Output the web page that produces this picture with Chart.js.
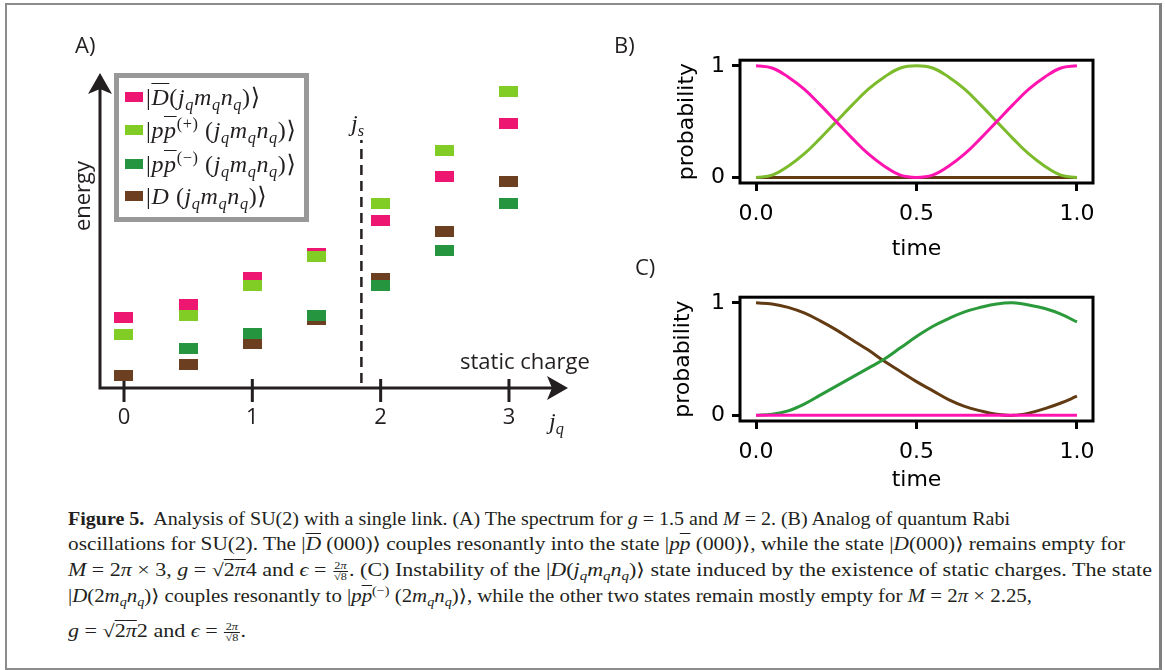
<!DOCTYPE html>
<html>
<head>
<meta charset="utf-8">
<script src="https://cdn.jsdelivr.net/npm/chart.js@4.4.1/dist/chart.umd.min.js"></script>
<style>
  html, body { margin: 0; padding: 0; background: #fff; }
  #fig { position: relative; width: 1165px; height: 670px; overflow: hidden; font-family: "Open Sans", sans-serif; color: #231f20; }
  #frame { position: absolute; left: 5px; top: 3px; width: 1157px; height: 667px; box-sizing: border-box;
           border-left: 2px solid #8c8c8c; border-top: 2px solid #8c8c8c; border-right: 3px solid #7f7f7f; border-bottom: 2px solid #8c8c8c; }
  canvas { position: absolute; }
  .lbl { position: absolute; font-size: 22px; line-height: 28px; white-space: nowrap; }
  .m { font-family: "Liberation Serif", "DejaVu Serif", serif; }
  .m i, .m sub { font-style: italic; }
  .m sup { font-style: normal; }
  sub { font-size: 68%; vertical-align: -0.3em; line-height: 0; }
  sup { font-size: 68%; vertical-align: 0.55em; line-height: 0; }
  .ov { text-decoration: overline; text-decoration-thickness: 1px; }
  #legA { position: absolute; left: 114px; top: 73px; width: 195px; height: 149px; box-sizing: border-box;
          border: 5px solid #999; background: #fff; }
  #legA .row { position: absolute; left: 6px; height: 26px; line-height: 26px; white-space: nowrap; font-size: 24px; letter-spacing: 0.6px; }
  #legA .sw { position: absolute; left: 0; top: 8px; width: 18px; height: 10px; }
  #legA .mt { position: absolute; left: 21px; top: 0; }
  .cap { position: absolute; left: 68px; white-space: nowrap; font: 18px "Liberation Serif", "DejaVu Serif", serif;
         line-height: 22px; transform-origin: 0 50%; color: #231f20; }
  .cap i { font-style: italic; }
  .frac { display: inline-block; vertical-align: middle; font-size: 10px; line-height: 10px; text-align: center; margin: 0 1px; }
  .frac span { display: block; }
  .frac .num { border-bottom: 1px solid #231f20; padding: 0 1px; }
</style>
</head>
<body>
<div id="fig">
  <div id="frame"></div>

  <canvas id="chartA" width="560" height="420" style="left:60px;top:40px"></canvas>
  <canvas id="chartB" width="490" height="226" style="left:620px;top:40px"></canvas>
  <canvas id="chartC" width="490" height="220" style="left:620px;top:277px"></canvas>

  <div class="lbl" style="left:75px;top:30px">A)</div>
  <div class="lbl" style="left:614px;top:30px">B)</div>
  <div class="lbl" style="left:635px;top:252px">C)</div>
  <div class="lbl" style="left:43px;top:182px;width:75px;text-align:center;transform:rotate(-90deg)">energy</div>
  <div class="lbl" style="left:460px;top:346px">static charge</div>
  <div class="lbl m" style="left:549px;top:407px;font-size:24px"><i>j</i><sub>q</sub></div>
  <div class="lbl m" style="left:351px;top:109px;font-size:24px"><i>j</i><sub>s</sub></div>

  <div id="legA" class="m">
    <div class="row" style="top:6px"><span class="sw" style="background:#ed1670"></span><span class="mt">|<i class="ov">D</i>(<i>j</i><sub>q</sub><i>m</i><sub>q</sub><i>n</i><sub>q</sub>)⟩</span></div>
    <div class="row" style="top:39px"><span class="sw" style="background:#82cc26"></span><span class="mt">|<i>p</i><i class="ov">p</i><sup>(+)</sup> (<i>j</i><sub>q</sub><i>m</i><sub>q</sub><i>n</i><sub>q</sub>)⟩</span></div>
    <div class="row" style="top:73px"><span class="sw" style="background:#259540"></span><span class="mt">|<i>p</i><i class="ov">p</i><sup>(−)</sup> (<i>j</i><sub>q</sub><i>m</i><sub>q</sub><i>n</i><sub>q</sub>)⟩</span></div>
    <div class="row" style="top:105px"><span class="sw" style="background:#6b3f20"></span><span class="mt">|<i>D</i> (<i>j</i><sub>q</sub><i>m</i><sub>q</sub><i>n</i><sub>q</sub>)⟩</span></div>
  </div>

  <div class="cap" style="top:508px"><b>Figure 5.</b>&nbsp; Analysis of SU(2) with a single link. (A) The spectrum for <i>g</i> = 1.5 and <i>M</i> = 2. (B) Analog of quantum Rabi</div>
  <div class="cap" style="top:533px">oscillations for SU(2). The |<i class="ov">D</i> (000)⟩ couples resonantly into the state |<i>p</i><i class="ov">p</i> (000)⟩, while the state |<i>D</i>(000)⟩ remains empty for</div>
  <div class="cap" style="top:559px"><i>M</i> = 2<i>π</i> × 3, <i>g</i> = √<span class="ov">2<i>π</i></span>4 and <i>ϵ</i> = <span class="frac"><span class="num">2<i>π</i></span><span>√8</span></span>. (C) Instability of the |<i>D</i>(<i>j<sub>q</sub>m<sub>q</sub>n<sub>q</sub></i>)⟩ state induced by the existence of static charges. The state</div>
  <div class="cap" style="top:585px">|<i>D</i>(2<i>m<sub>q</sub>n<sub>q</sub></i>)⟩ couples resonantly to |<i>p</i><i class="ov">p</i><sup>(−)</sup> (2<i>m<sub>q</sub>n<sub>q</sub></i>)⟩, while the other two states remain mostly empty for <i>M</i> = 2<i>π</i> × 2.25,</div>
  <div class="cap" style="top:620px"><i>g</i> = √<span class="ov">2<i>π</i></span>2 and <i>ϵ</i> = <span class="frac"><span class="num">2<i>π</i></span><span>√8</span></span>.</div>
</div>

<script>
// ---- Panel A: spectrum vs static charge ----
const jValues = [0, 0.5, 1, 1.5, 2, 2.5, 3];
const jTicks = [0, 1, 2, 3];
const jStatic = 1.85;
const energyDbar  = [2.36, 2.79, 3.69, 4.48, 5.59, 7.06, 8.82];
const energyPlus  = [1.79, 2.42, 3.42, 4.40, 6.16, 7.92, 9.89];
const energyMinus = [null, 1.32, 1.82, 2.42, 3.42, 4.59, 6.16];
const energyD     = [0.42, 0.79, 1.48, 2.28, 3.64, 5.22, 6.89];

// ---- Panels B and C: probabilities vs time ----
const timeTicks = [0, 0.5, 1];
const probTicks = [0, 1];
const timeB = [0, 0.05, 0.1, 0.15, 0.2, 0.25, 0.3, 0.35, 0.4, 0.45, 0.5, 0.55, 0.6, 0.65, 0.7, 0.75, 0.8, 0.85, 0.9, 0.95, 1];
const pinkB  = [1.00, 0.98, 0.90, 0.79, 0.65, 0.50, 0.35, 0.21, 0.10, 0.02, 0.00, 0.02, 0.10, 0.21, 0.35, 0.50, 0.65, 0.79, 0.90, 0.98, 1.00];
const greenB = [0.00, 0.02, 0.10, 0.21, 0.35, 0.50, 0.65, 0.79, 0.90, 0.98, 1.00, 0.98, 0.90, 0.79, 0.65, 0.50, 0.35, 0.21, 0.10, 0.02, 0.00];
const brownB = [0, 0, 0, 0, 0, 0, 0, 0, 0, 0, 0, 0, 0, 0, 0, 0, 0, 0, 0, 0, 0];
const timeC = [0, 0.05, 0.1, 0.15, 0.2, 0.25, 0.3, 0.35, 0.4, 0.45, 0.5, 0.55, 0.6, 0.65, 0.7, 0.75, 0.8, 0.85, 0.9, 0.95, 1];
const brownC = [1.00, 0.99, 0.96, 0.91, 0.84, 0.76, 0.67, 0.58, 0.48, 0.39, 0.30, 0.22, 0.14, 0.08, 0.04, 0.01, 0.00, 0.02, 0.06, 0.11, 0.17];
const greenC = [0.00, 0.01, 0.04, 0.10, 0.18, 0.26, 0.34, 0.42, 0.50, 0.60, 0.70, 0.79, 0.86, 0.92, 0.96, 0.99, 1.00, 0.98, 0.95, 0.90, 0.83];
const pinkC  = [0, 0, 0, 0, 0, 0, 0, 0, 0, 0, 0, 0, 0, 0, 0, 0, 0, 0, 0, 0, 0];

const ink = '#231f20';

// little filled rectangles used as point markers
function marker(color) {
  const c = document.createElement('canvas');
  c.width = 19; c.height = 11;
  const g = c.getContext('2d');
  g.fillStyle = color;
  g.fillRect(0, 0, 19, 11);
  return c;
}

function levelSet(label, values, color, order) {
  return {
    label: label,
    data: jValues.map((j, i) => ({ x: j, y: values[i] })).filter(p => p.y !== null),
    pointStyle: marker(color),
    backgroundColor: color,
    order: order,
    clip: false
  };
}

const panelAAxes = {
  id: 'panelAAxes',
  beforeDatasetsDraw(chart) {
    const { ctx, scales: { x, y } } = chart;
    const ox = x.getPixelForValue(x.min);
    const oy = y.getPixelForValue(y.min);
    const tipX = x.getPixelForValue(x.max);
    const tipY = y.getPixelForValue(y.max);
    ctx.save();
    ctx.strokeStyle = ink;
    ctx.fillStyle = ink;
    ctx.lineWidth = 3;
    ctx.beginPath();
    ctx.moveTo(ox, tipY + 14);
    ctx.lineTo(ox, oy);
    ctx.lineTo(tipX - 14, oy);
    ctx.stroke();
    // arrow heads
    ctx.beginPath();
    ctx.moveTo(ox, tipY);
    ctx.lineTo(ox + 12, tipY + 21);
    ctx.lineTo(ox, tipY + 16);
    ctx.lineTo(ox - 12, tipY + 21);
    ctx.closePath();
    ctx.fill();
    ctx.beginPath();
    ctx.moveTo(tipX, oy);
    ctx.lineTo(tipX - 21, oy - 12);
    ctx.lineTo(tipX - 16, oy);
    ctx.lineTo(tipX - 21, oy + 12);
    ctx.closePath();
    ctx.fill();
    // ticks
    ctx.font = '22px "Open Sans"';
    ctx.textAlign = 'center';
    ctx.textBaseline = 'middle';
    jTicks.forEach(t => {
      const px = x.getPixelForValue(t);
      ctx.fillRect(px - 1.5, oy - 9, 3, 23);
      ctx.fillText(String(t), px, oy + 30);
    });
    // dashed line at j_s
    const sx = x.getPixelForValue(jStatic);
    ctx.setLineDash([10, 6]);
    ctx.lineWidth = 2.5;
    ctx.beginPath();
    ctx.moveTo(sx, oy - 5);
    ctx.lineTo(sx, y.getPixelForValue(8.27));
    ctx.stroke();
    ctx.restore();
  }
};

new Chart(document.getElementById('chartA'), {
  type: 'scatter',
  data: {
    datasets: [
      levelSet('Dbar', energyDbar, '#ed1670', 4),
      levelSet('pp+', energyPlus, '#82cc26', 3),
      levelSet('D', energyD, '#6b3f20', 2),
      levelSet('pp-', energyMinus, '#259540', 1)
    ]
  },
  options: {
    responsive: false,
    animation: false,
    events: [],
    layout: { padding: { left: 40, top: 33, right: 52, bottom: 72 } },
    plugins: { legend: { display: false }, tooltip: { enabled: false } },
    scales: {
      x: { type: 'linear', min: -0.187, max: 3.46, display: false },
      y: { type: 'linear', min: 0, max: 10.5, display: false }
    }
  },
  plugins: [panelAAxes]
});

// ---- time panels ----
const boxFrame = {
  id: 'boxFrame',
  afterDatasetsDraw(chart) {
    const a = chart.chartArea;
    const ctx = chart.ctx;
    ctx.save();
    ctx.strokeStyle = '#000';
    ctx.lineWidth = 3;
    ctx.strokeRect(a.left, a.top, a.right - a.left, a.bottom - a.top);
    ctx.restore();
  }
};

function curve(times, values, color) {
  return {
    data: times.map((t, i) => ({ x: t, y: values[i] })),
    borderColor: color,
    borderWidth: 3,
    pointRadius: 0,
    tension: 0.4,
    fill: false
  };
}

function timeChart(id, datasets, padLeft, yWidth, xHeight) {
  const tickFont = { family: 'DejaVu Sans', size: 22 };
  return new Chart(document.getElementById(id), {
    type: 'line',
    data: { datasets: datasets },
    options: {
      responsive: false,
      animation: false,
      events: [],
      layout: { padding: { left: padLeft, top: 19, right: 17, bottom: 0 } },
      plugins: { legend: { display: false }, tooltip: { enabled: false } },
      scales: {
        x: {
          type: 'linear', min: -0.05, max: 1.05,
          afterBuildTicks: s => { s.ticks = timeTicks.map(v => ({ value: v })); },
          afterFit: s => { s.height = xHeight; },
          ticks: { color: '#000', font: tickFont, padding: 10, maxRotation: 0, callback: v => v.toFixed(1) },
          grid: { drawOnChartArea: false, tickLength: 8, tickWidth: 3, tickColor: '#000' },
          border: { display: false },
          title: { display: true, text: 'time', color: '#000', font: tickFont }
        },
        y: {
          type: 'linear', min: -0.05, max: 1.05,
          afterBuildTicks: s => { s.ticks = probTicks.map(v => ({ value: v })); },
          afterFit: s => { s.width = yWidth; },
          ticks: { color: '#000', font: tickFont, padding: 7, callback: v => String(v) },
          grid: { drawOnChartArea: false, tickLength: 8, tickWidth: 3, tickColor: '#000' },
          border: { display: false },
          title: { display: true, text: 'probability', color: '#000', font: tickFont }
        }
      }
    },
    plugins: [boxFrame]
  });
}

timeChart('chartB', [
  curve(timeB, pinkB, '#ff14b0'),
  curve(timeB, greenB, '#7cbb2c'),
  curve(timeB, brownB, '#623b13')
], 50, 70, 83);

timeChart('chartC', [
  curve(timeC, pinkC, '#ff14b0'),
  curve(timeC, greenC, '#2b9a3a'),
  curve(timeC, brownC, '#623b13')
], 46, 74, 76);

// ---- caption: stretch each line to the width it has in the figure ----
const captionRight = [1010, 1125, 1152, 1032, 246];
function fitCaption() {
  document.querySelectorAll('.cap').forEach((el, i) => {
    el.style.transform = 'none';
    const w = el.getBoundingClientRect().width;
    el.style.transform = 'scaleX(' + ((captionRight[i] - 68) / w) + ')';
  });
}
fitCaption();
if (document.fonts) document.fonts.ready.then(fitCaption);
</script>
</body>
</html>
